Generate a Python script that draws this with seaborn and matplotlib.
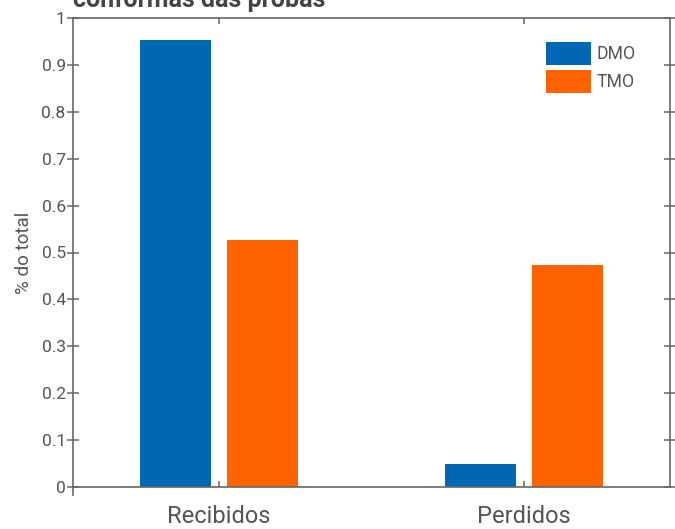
"""
Bar chart: share of packets received / lost for DMO and TMO.
"""

import matplotlib
matplotlib.use("Agg")
import matplotlib.pyplot as plt
import seaborn as sns
import pandas as pd

# data
categories = ["Recibidos", "Perdidos"]
series_names = ["DMO", "TMO"]
dmo_values = [0.953, 0.048]
tmo_values = [0.527, 0.473]
y_ticks = [0, 0.1, 0.2, 0.3, 0.4, 0.5, 0.6, 0.7, 0.8, 0.9, 1]
y_tick_labels = ["0", "0.1", "0.2", "0.3", "0.4", "0.5", "0.6", "0.7", "0.8", "0.9", "1"]
title_text = "conformas das probas"
y_label = "% do total"

colors = ["#0067B4", "#FF6300"]
text_gray = "#555555"
axis_gray = "#666666"

sns.set_theme(style="white")
plt.rcParams["font.family"] = ["Roboto", "DejaVu Sans"]

df = pd.DataFrame({
    "categoria": categories * 2,
    "serie": [series_names[0]] * 2 + [series_names[1]] * 2,
    "valor": dmo_values + tmo_values,
})

fig = plt.figure(figsize=(6.75, 5.29), dpi=100)
ax = fig.add_axes([73.3 / 675, 42 / 529, (670 - 73.3) / 675, (487 - 18) / 529])

sns.barplot(data=df, x="categoria", y="valor", hue="serie", order=categories,
            hue_order=series_names, palette=colors, width=0.57, gap=0.19,
            saturation=1, errorbar=None, linewidth=0, ax=ax)

ax.set_xlim(-0.478, 1.479)
ax.set_ylim(0, 1)
ax.set_yticks(y_ticks)
ax.set_yticklabels(y_tick_labels)
ax.set_xlabel("")
ax.set_ylabel(y_label, fontsize=13.5, color=text_gray, labelpad=6)

for side in ["left", "right", "top", "bottom"]:
    ax.spines[side].set_visible(True)
    ax.spines[side].set_color(axis_gray)
    ax.spines[side].set_linewidth(1.2)
ax.spines["left"].set_bounds(-0.018, 1)

ax.tick_params(axis="y", which="major", direction="inout", length=9, width=1.1,
               color=axis_gray, labelcolor=text_gray, labelsize=12.5,
               left=True, right=True, pad=1)
ax.tick_params(axis="x", which="major", direction="in", length=4, width=1.1,
               color=axis_gray, labelcolor=text_gray, labelsize=17,
               bottom=True, top=True, pad=13)

leg = ax.legend(loc="upper right", bbox_to_anchor=(0.955, 0.964), frameon=False,
                fontsize=12.7, handlelength=2.55, handleheight=1.6,
                handletextpad=0.35, labelspacing=0.3, borderaxespad=0)
for t in leg.get_texts():
    t.set_color(text_gray)

fig.text(73.3 / 675, 1 - 7.5 / 529, title_text, ha="left", va="baseline",
         fontsize=18, fontweight="bold", color="#444444")

fig.savefig("out.png", dpi=100)
